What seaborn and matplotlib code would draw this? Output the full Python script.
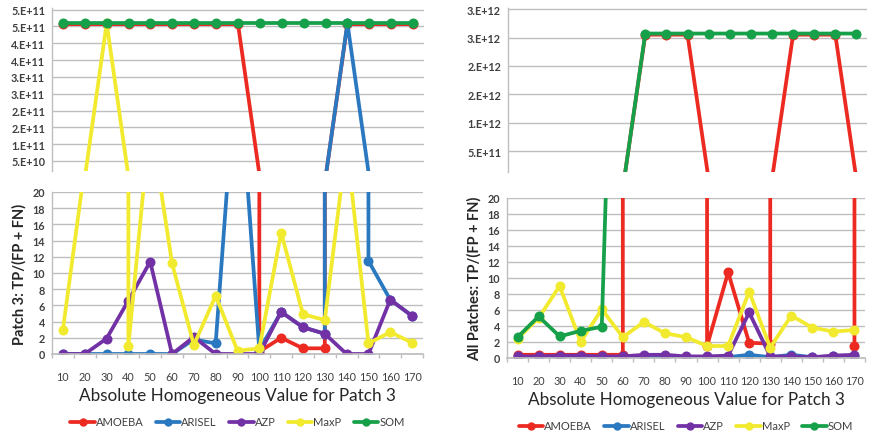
import numpy as np
import pandas as pd
import matplotlib
matplotlib.use("Agg")
import matplotlib.pyplot as plt
from matplotlib.lines import Line2D
import seaborn as sns

sns.set_theme(style="white")
plt.rcParams['font.family'] = ['Lato', 'DejaVu Sans']

categories = [10, 20, 30, 40, 50, 60, 70, 80, 90, 100, 110, 120, 130, 140, 150, 160, 170]
series_names = ["AMOEBA", "ARISEL", "AZP", "MaxP", "SOM"]
colors = ["#EC2A22", "#2A78C0", "#7232A6", "#F2EA2E", "#17A04A"]

# Left panel: Patch 3
p3_amoeba = [4.57e11, 4.57e11, 4.57e11, 4.57e11, 4.57e11, 4.57e11, 4.57e11, 4.57e11, 4.57e11,
             0.3, 2.0, 0.7, 0.7, 4.57e11, 4.57e11, 4.57e11, 4.57e11]
p3_arisel = [0, 0, 0, 0, 0, 0, 1.8, 1.3, 38, 0.5, 5.2, 3.3, 2.5, 4.6e11, 11.5, 6.7, 4.7]
p3_azp = [0, 0, 1.9, 6.6, 11.4, 0, 2.1, 0, 0, 0, 5.2, 3.3, 2.5, 0, 0, 6.7, 4.7]
p3_maxp = [3.0, 23, 4.6e11, 1.0, 29, 11.2, 1.1, 7.2, 0.4, 0.7, 15.0, 4.9, 4.2, 26, 1.3, 2.7, 1.4]
p3_som = [4.6e11, 4.6e11, 4.6e11, 4.6e11, 4.6e11, 4.6e11, 4.6e11, 4.6e11, 4.6e11,
          4.6e11, 4.6e11, 4.6e11, 4.6e11, 4.6e11, 4.6e11, 4.6e11, 4.6e11]

# Right panel: All patches
all_amoeba = [0.4, 0.4, 0.4, 0.4, 0.4, 0.4, 2.55e12, 2.55e12, 2.55e12, 1.5, 10.7, 1.9, 1.8,
              2.55e12, 2.55e12, 2.55e12, 1.5]
all_arisel = [0.1, 0.1, 0.1, 0.1, 0.1, 0.1, 0.2, 0.2, 0.1, 0.1, 0.1, 0.4, 0.1, 0.4, 0.1, 0.2, 0.3]
all_azp = [0.2, 0.2, 0.3, 0.3, 0.2, 0.2, 0.4, 0.4, 0.2, 0.2, 0.3, 5.7, 0.2, 0.2, 0.1, 0.3, 0.4]
all_maxp = [2.4, 5.0, 9.0, 2.0, 6.1, 2.6, 4.5, 3.1, 2.6, 1.5, 1.5, 8.3, 1.3, 5.3, 3.8, 3.3, 3.5]
all_som = [2.6, 5.2, 2.7, 3.4, 3.9, 90, 2.57e12, 2.57e12, 2.57e12, 2.57e12, 2.57e12, 2.57e12,
           2.57e12, 2.57e12, 2.57e12, 2.57e12, 2.57e12]

left_top_ticks = [5e10, 1e11, 1.5e11, 2e11, 2.5e11, 3e11, 3.5e11, 4e11, 4.5e11, 5e11]
left_top_labels = ["5.E+10", "1.E+11", "2.E+11", "2.E+11", "3.E+11", "3.E+11", "4.E+11", "4.E+11", "5.E+11", "5.E+11"]
right_top_ticks = [5e11, 1e12, 1.5e12, 2e12, 2.5e12, 3e12]
right_top_labels = ["5.E+11", "1.E+12", "2.E+12", "2.E+12", "3.E+12", "3.E+12"]
bottom_ticks = [0, 2, 4, 6, 8, 10, 12, 14, 16, 18, 20]

xlabel = "Absolute Homogeneous Value for Patch 3"
left_ylabel = "Patch 3: TP/(FP + FN)"
right_ylabel = "All Patches: TP/(FP + FN)"


def make_df(vals):
    rows = []
    for name, v in zip(series_names, vals):
        for c, y in zip(categories, v):
            rows.append({"x": c, "y": y, "series": name})
    return pd.DataFrame(rows)


df_left = make_df([p3_amoeba, p3_arisel, p3_azp, p3_maxp, p3_som])
df_right = make_df([all_amoeba, all_arisel, all_azp, all_maxp, all_som])
palette = dict(zip(series_names, colors))

W, H = 877, 435
fig = plt.figure(figsize=(W / 100, H / 100), dpi=100)


def ax_at(x0, y0, x1, y1):
    return fig.add_axes([x0 / W, 1 - y1 / H, (x1 - x0) / W, (y1 - y0) / H])


grid_c = "#BEBEBE"
text_c = "#404040"


def style(ax, top):
    ax.set_axisbelow(True)
    for s in ["top", "right", "bottom"]:
        ax.spines[s].set_visible(False)
    ax.spines["left"].set_color(grid_c)
    ax.spines["left"].set_linewidth(1.0)
    ax.grid(axis="y", color=grid_c, linewidth=1.0)
    ax.grid(axis="x", visible=False)
    ax.set_xlim(5, 175)
    ax.tick_params(axis="y", length=3, color=grid_c, labelsize=7.8, labelcolor=text_c, pad=2)
    for lab in ax.get_yticklabels():
        lab.set_fontweight("bold")
    if top:
        ax.set_xticks([])
    else:
        ax.spines["bottom"].set_visible(True)
        ax.spines["bottom"].set_color(grid_c)
        ax.set_xticks(categories)
        ax.set_xticklabels([str(c) for c in categories])
        ax.set_xticks([c - 5 for c in categories] + [175], minor=True)
        ax.tick_params(axis="x", which="major", length=0, labelsize=7.8, labelcolor=text_c, pad=12)
        ax.tick_params(axis="x", which="minor", length=3, color=grid_c, bottom=True)
    ax.set_xlabel("")
    ax.set_ylabel("")


def draw(ax, df):
    sns.lineplot(data=df, x="x", y="y", hue="series", hue_order=series_names, palette=palette,
                 marker="o", markersize=7.2, markeredgewidth=0, linewidth=2.7,
                 errorbar=None, legend=False, ax=ax, sort=False)


panels = [
    (df_left, (52, 9, 424, 172), (52, 193, 423, 355), (2e10, 5.05e11), left_top_ticks, left_top_labels, left_ylabel),
    (df_right, (508, 9, 867, 173), (507, 199, 865, 359), (1.3e11, 3.02e12), right_top_ticks, right_top_labels, right_ylabel),
]

for df, tb, bb, ylim, tt, tl, ylab in panels:
    at = ax_at(*tb)
    draw(at, df)
    at.set_ylim(*ylim)
    at.set_yticks(tt)
    at.set_yticklabels(tl)
    style(at, True)

    ab = ax_at(*bb)
    draw(ab, df)
    ab.set_ylim(0, 20)
    ab.set_yticks(bottom_ticks)
    style(ab, False)
    ab.set_xlabel(xlabel, fontsize=12.3, color="#262626", labelpad=4)
    ab.set_ylabel(ylab, fontsize=10.5, color="#262626", fontweight="bold", labelpad=4)

    handles = [Line2D([0], [0], color=c, lw=2.7, marker="o", markersize=6, markeredgewidth=0)
               for c in colors]
    cx = (bb[0] + bb[2]) / 2
    leg_y = bb[3] + 68
    fig.legend(handles, series_names, loc="center", bbox_to_anchor=(cx / W, 1 - leg_y / H),
               ncol=5, frameon=False, fontsize=8, handlelength=2.2, handletextpad=0.1,
               columnspacing=1.1, labelcolor=text_c)

fig.savefig("out.png", dpi=100)
